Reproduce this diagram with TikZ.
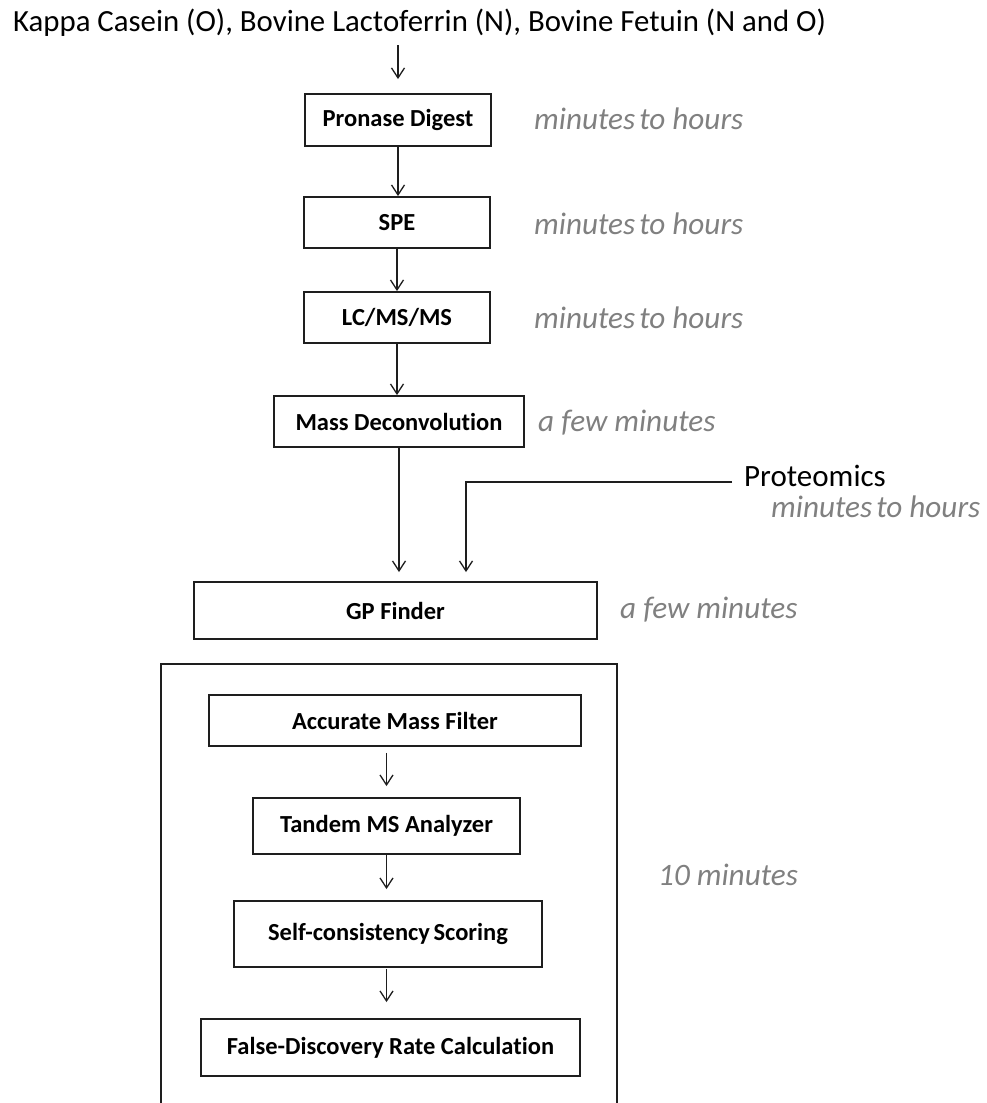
\documentclass[tikz,border=0pt]{standalone}
\usepackage{fontspec}
\setmainfont{Carlito}[Ligatures={NoCommon,NoRare}]
\usetikzlibrary{arrows.meta,calc}
\definecolor{timegray}{RGB}{128,128,128}
\definecolor{inkdark}{RGB}{30,30,30}
\begin{document}
\begin{tikzpicture}[x=1pt,y=-1pt,
  box/.style={draw=inkdark,line width=1.8pt,inner sep=0pt,
    font=\fontsize{24.5}{29}\selectfont\bfseries},
  timelabel/.style={anchor=base west,inner sep=0pt,text=timegray,
    font=\fontsize{31.2}{37}\selectfont\itshape},
  arr/.style={draw=inkdark,line width=1.3pt,
    -{Straight Barb[length=10pt,width=13pt,line width=1.3pt]}},
  frame/.style={draw=inkdark,line width=1.8pt}]
\useasboundingbox (0,0) rectangle (986,1103);

% input samples
\node[anchor=base west,inner sep=0pt,font=\fontsize{30.8}{36}\selectfont]
  (title) at (13,31) {Kappa Casein (O), Bovine Lactoferrin (N), Bovine Fetuin (N and O)};

% sample preparation and acquisition
\node[box,minimum width=186pt,minimum height=52pt] (pronase) at (398,120) {Pronase Digest};
\node[box,minimum width=186pt,minimum height=51pt] (spe) at (397,222.5) {SPE};
\node[box,minimum width=186pt,minimum height=51pt] (lc) at (397,317.5) {LC/MS/MS};
\node[box,minimum width=250pt,minimum height=51pt] (md) at (399,421.5) {Mass Deconvolution};
\node[box,minimum width=403pt,minimum height=57pt] (gp) at (395.5,610.5) {GP Finder};

% analysis stage
\draw[frame] (161,1104) -- (161,664) -- (617,664) -- (617,1104);
\node[box,minimum width=372pt,minimum height=51pt] (amf) at (395,720.5) {Accurate Mass Filter};
\node[box,minimum width=267pt,minimum height=56pt] (tms) at (386.5,826) {Tandem MS Analyzer};
\node[box,minimum width=308pt,minimum height=66pt] (scs) at (388,934) {Self-consistency\hspace{-2pt} Scoring};
\node[box,minimum width=379pt,minimum height=57pt] (fdr) at (390.5,1047.5) {False-Discovery Rate Calculation};

% time estimates
\node[timelabel] (t1) at (534,129) {minutes\hspace{-3pt} to hours};
\node[timelabel] (t2) at (534,234) {minutes\hspace{-3pt} to hours};
\node[timelabel] (t3) at (534,328) {minutes\hspace{-3pt} to hours};
\node[timelabel] (t4) at (538,431) {a few minutes};
\node[anchor=base west,inner sep=0pt,font=\fontsize{31}{37}\selectfont]
  (prot) at (744,486) {Proteomics};
\node[timelabel] (t5) at (771,517) {minutes\hspace{-3pt} to hours};
\node[timelabel] (t6) at (620,618) {a few minutes};
\node[timelabel] (t7) at (658,885) {10 minutes};

% connectors
\draw[arr] ($(title.base -| pronase.north)+(0,14)$) -- ($(pronase.north)+(0,-14)$);
\draw[arr] (pronase.south) -- (pronase.south |- spe.north);
\draw[arr] (spe.south) -- (spe.south |- lc.north);
\draw[arr] (lc.south) -- (lc.south |- md.north);
\draw[arr,shorten >=9pt] (md.south) -- (md.south |- gp.north);
\coordinate (pstart) at ($(prot.base west)+(-12,-4)$);
\draw[arr,shorten >=9pt] (pstart) -| ($(gp.north)+(70.5,0)$);
\draw[arr,shorten <=6pt,shorten >=11pt] (amf.south -| tms.north) -- (tms.north);
\draw[arr,shorten >=11pt] (tms.south) -- (tms.south |- scs.north);
\draw[arr,shorten <=1pt,shorten >=16pt] (scs.south -| tms.south) -- (tms.south |- fdr.north);
\end{tikzpicture}
\end{document}
